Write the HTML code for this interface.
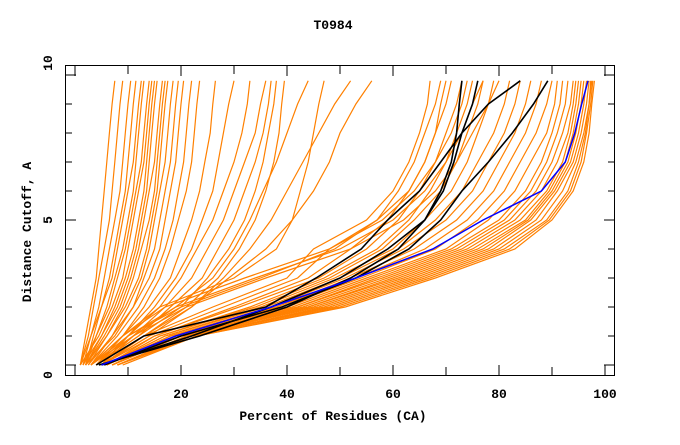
<!DOCTYPE html>
<html><head><meta charset="utf-8"><style>
body{margin:0;background:#fff}
svg text{font-family:"Liberation Mono",monospace;font-weight:bold;font-size:13px;fill:#000}
</style></head><body>
<svg id="chart" width="680" height="440" xmlns="http://www.w3.org/2000/svg">
<text x="333" y="29" text-anchor="middle">T0984</text>
<text x="333" y="420" text-anchor="middle">Percent of Residues (CA)</text>
<text x="31" y="232" text-anchor="middle" transform="rotate(-90 31 232)">Distance Cutoff, A</text>
<g id="lines"></g>
<g id="axes"></g>
<rect x="65.5" y="65.5" width="549" height="310" fill="none" stroke="#000" stroke-width="1"/>
</svg>
<script>
const levels=[0,1,2,3,4,5,6,7,8,9,9.8];
const orangeSeries=[
[1,2,3,4,4.5,5,5.5,6,6.5,7,7.5],
[1,2.5,3.5,4.5,5.5,6.5,7,7.5,8,8.5,9],
[1.5,3,4.5,5.5,6.5,7.5,8.5,9,9.5,10,10.5],
[1,3,5,6.5,7.5,8.5,9.5,10,10.5,11,11.5],
[2,3.5,5,7,8,9,10,11,11.5,12,12.5],
[1.5,4,6,7.5,9,10,11,11.5,12,12.5,13],
[2,4,6.5,8,9.5,10.5,11.5,12.5,13,13.5,14],
[1,4.5,7,9,10,11,12,13,13.5,14,14.5],
[2,5,7.5,9.5,11,12,13,13.5,14,14.5,15],
[1.5,5,8,10,11.5,12.5,13.5,14,14.5,15,15.5],
[2,5.5,8.5,10.5,12,13,14,15,15.5,16,16.5],
[2.5,6,9,11,12.5,14,15,15.5,16,16.5,17],
[2,6,9.5,12,13.5,14.5,15.5,16,16.5,17,17.5],
[2.5,7,10,12.5,14,15,16,17,17.5,18,18.5],
[3,7,11,13,15,16,17,18,18.5,19,19.5],
[2,7.5,11,14,16,17,18,19,19.5,20,20.5],
[3,8,12,15,17,18.5,19.5,20.5,21,21.5,22],
[3,9,13,16,18,19.5,21,22,22.5,23,23.5],
[3,9,14,18,20,22,23.5,24.5,25.5,26,26.5],
[3,10,15,19,22,24,26,27,28,29,30],
[4,10,16,20,23,26,28,30,31.5,32.5,33],
[3,11,17,22,25,28,30,32,34,35,36],
[4,12,18,24,27,30,32,34,35.5,36.5,37],
[4,12,20,25,29,32,34,35.5,36.5,37.5,38],
[5,13,21,27,31,34,36,37.5,38.5,39,39.5],
[4,11,19,26,30,33,35.5,38,40,42,44],
[5,14,22,28,33,37,40,43,46,49,52],
[4,13,22,29,36,41,45,48,50,53,56],
[4,9,16,30,38,41,42.5,44,45,46,47],
[4,9,17,32,48,58,64,68,71,73,74],
[5,10,19,34,50,60,66,70,73,75,77],
[5,11,21,36,52,62,68,72,75,78,80],
[5,10,20,35,49,57,63,66,68,69,70],
[5,13,26,40,45,55,60,63,65,66.5,67],
[5,14,28,42,48,57,61,64,66,68,69],
[5,15,30,44,52,59,63,66,68,70,71],
[6,15,31,46,55,61,65,68,70,72,73],
[6,16,33,47,57,63,67,70,72,74,75],
[6,16,34,48,58,64,69,72,74,76,77],
[6,17,35,49,60,66,71,74,76,78,79],
[6,17,36,50,61,68,73,76,79,81,82],
[6,18,37,51,62,70,75,78,81,83,84],
[6,18,38,52,64,72,77,80,83,85,86],
[7,18,38,53,66,74,79,82,85,87,88],
[7,19,39,54,68,76,81,84,87,89,90],
[7,19,40,55,70,78,83,86,89,90.5,91],
[7,19,41,56,71,80,85,88,90,91.5,92],
[7,20,42,57,72,81,86,89,91,92.5,93],
[7,20,42,58,73,82,87,90,92,93.5,94],
[7,20,43,59,74,83,88,91,93,94,94.5],
[7,20,44,60,75,84,89,92,93.5,94.5,95],
[8,21,44,61,76,85,89.5,92.5,94,95,95.5],
[8,21,45,62,77,85.5,90,93,94.5,95.5,96],
[8,21,46,63,78,86,90.5,93.5,95,96,96.5],
[8,22,47,64,79,87,91,94,95.5,96.5,97],
[8,22,48,65,80,88,92,94.5,96,97,97.3],
[8,22,49,66,81,89,93,95,96.3,97,97.5],
[8,23,50,67,82,89.5,93.5,95.5,96.5,97.3,97.7],
[9,23,51,68,83,90,94,96,97,97.5,98]
];
const blackSeries=[
[4.5,23.5,40,52,61,66,69.5,71.5,73,75,76],
[5,22,37,50,59,66,69,71,72,72.5,73],
[4,13,36,45.5,54,59,65,69,73,78,84],
[5.5,20,39,53,63,69,73,78,82.5,86.5,89.2]
];
const blueSeries=[[5,19,37,53,67.5,77,88,92.5,94.3,95.6,96.8]];
const xTicks=[0,20,40,60,80,100];
const yTicks=[0,5,10];
const X=v=>75+5.3*v, Y=v=>365-29*v;
const NS="http://www.w3.org/2000/svg";
const lg=document.getElementById('lines');
function draw(series,color,w,name){
 series.forEach(s=>{
  const p=document.createElementNS(NS,'polyline');
  p.setAttribute('points',s.map((x,i)=>X(x).toFixed(1)+','+Y(levels[i]).toFixed(1)).join(' '));
  p.setAttribute('fill','none');p.setAttribute('stroke',color);p.setAttribute('stroke-width',w);
  
  
  lg.appendChild(p);
 });
}
draw(orangeSeries,'#ff8000',1.2,'orange-line');
draw(blackSeries,'#000',1.6,'black-line');
draw(blueSeries,'#0000ff',1.5,'blue-line');
const ax=document.getElementById('axes');
function ln(x1,y1,x2,y2,nm){const l=document.createElementNS(NS,'line');l.setAttribute('x1',x1);l.setAttribute('y1',y1);l.setAttribute('x2',x2);l.setAttribute('y2',y2);l.setAttribute('stroke','#000');
 
 
 ax.appendChild(l);}
function tx(x,y,s,a,nm){const t=document.createElementNS(NS,'text');t.setAttribute('x',x);t.setAttribute('y',y);t.setAttribute('text-anchor',a);t.textContent=s;
 
 
 ax.appendChild(t);}
for(let v=0;v<=100;v+=10){const L=v%20===0?10:8;ln(X(v),375,X(v),375-L,'x-tick');ln(X(v),66,X(v),66+L,'x-tick-top');}
xTicks.forEach(v=>tx(X(v)-(v===0?8:0),398,String(v),'middle','x-tick-label'));
for(let v=0;v<=10;v++){const L=v%5===0?10:6;ln(66,Y(v),66+L,Y(v),'y-tick');ln(614,Y(v),614-L,Y(v),'y-tick-right');}
const yLabelPos=[375,220,63];
yTicks.forEach((v,i)=>{
 const t=document.createElementNS(NS,'text');
 const yy=yLabelPos[i];
 t.setAttribute('x',52);t.setAttribute('y',yy);t.setAttribute('text-anchor','middle');
 t.setAttribute('transform','rotate(-90 52 '+yy+')');
 t.textContent=String(v);
 
 
 ax.appendChild(t);
});
</script>
</body></html>
